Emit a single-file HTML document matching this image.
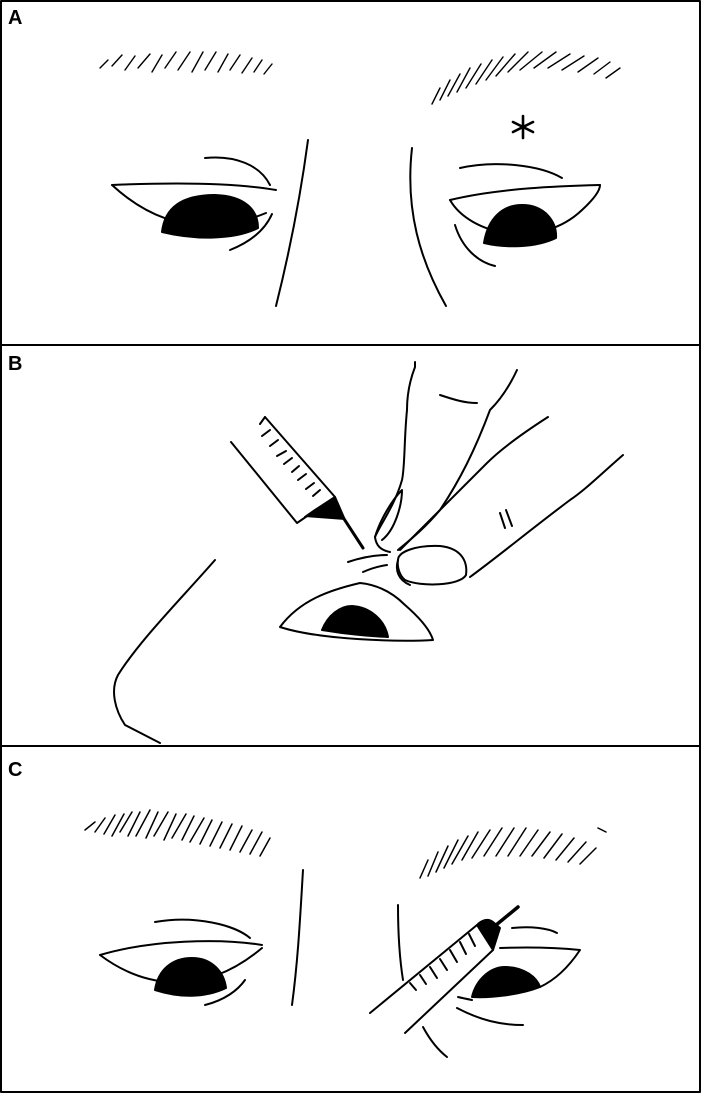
<!DOCTYPE html>
<html><head><meta charset="utf-8"><style>
html,body{margin:0;padding:0;background:#fff}
svg{display:block}
text{font-family:"Liberation Sans",Arial,sans-serif;font-weight:bold;font-size:20px}
</style></head><body>
<svg width="701" height="1094" viewBox="0 0 701 1094" xmlns="http://www.w3.org/2000/svg">
<g fill="none" stroke="#000" stroke-width="2" stroke-linecap="round" stroke-linejoin="round">
<rect x="1" y="1" width="699" height="1091" stroke-width="2"/>
<line x1="1" y1="345" x2="700" y2="345" stroke-width="2"/>
<line x1="1" y1="746" x2="700" y2="746" stroke-width="2"/>

<!-- Panel A -->
<g stroke-width="1.4">
<path d="M100 68 L108 60 M112 66 L122 55 M125 70 L135 56 M138 68 L150 54 M152 72 L162 55 M165 68 L176 52 M178 70 L190 52 M192 72 L203 52 M205 70 L216 52 M218 72 L228 54 M230 70 L240 55 M242 73 L252 58 M254 72 L262 60 M264 74 L272 64"/>
<path d="M432 104 L440 88 M440 100 L450 80 M448 96 L460 74 M457 92 L470 68 M466 88 L481 64 M476 84 L492 60 M486 80 L503 57 M496 76 L515 54 M508 72 L528 52 M520 70 L542 52 M534 68 L556 52 M548 68 L570 54 M562 70 L584 56 M578 72 L598 58 M594 74 L610 62 M606 78 L620 68"/>
</g>
<path d="M308 140 C300 200 290 250 276 306"/>
<path d="M412 148 C405 210 420 260 446 306"/>
<path d="M112 185 C160 183 230 182 276 190"/>
<path d="M112 185 C150 220 200 240 266 213"/>
<path d="M205 158 C235 155 260 165 270 185"/>
<path d="M230 250 C250 242 265 230 272 214"/>
<path d="M162 232 C165 205 185 195 215 195 C245 196 258 210 258 228 C235 240 195 240 162 232Z" fill="#000"/>
<path d="M450 200 C500 188 560 186 600 185"/>
<path d="M450 200 C470 235 540 250 582 210 C595 198 600 190 600 185"/>
<path d="M460 168 C495 160 540 165 562 178"/>
<path d="M455 225 C462 248 478 262 495 266"/>
<path d="M484 243 C488 218 503 205 522 205 C545 205 557 222 556 238 C535 248 505 248 484 243Z" fill="#000"/>
<path d="M523 116 V138 M513 122 L533 132 M513 132 L533 122" stroke-width="2.6"/>

<!-- Panel B -->
<path d="M231 442 L297 523 L335 497 L265 417"/>
<path d="M265 417 L260 424 M270 430 L262 436 M278 440 L270 446 M286 451 L277 456 M292 458 L284 464 M299 466 L292 472 M306 474 L298 480 M314 483 L306 489 M320 490 L313 496"/>
<path d="M305 517 L315 510 L335 497 L345 520" fill="#000"/>
<path d="M335 505 L363 548" stroke-width="3"/>
<path d="M415 362 L415 367 M415 367 C408 385 407 400 407 410 C404 440 405 467 402 480 C395 505 380 525 375 537 C376 545 380 550 390 552"/>
<path d="M375 537 C380 520 392 500 402 490 C402 505 395 530 382 540"/>
<path d="M517 370 C510 385 500 400 490 410 C475 450 460 480 440 510 C425 528 410 540 398 550"/>
<path d="M440 395 C455 400 465 403 477 403"/>
<path d="M548 417 C520 435 500 450 487 463 C470 480 440 510 400 550"/>
<path d="M623 455 C600 475 585 490 570 500 C530 530 500 555 470 577"/>
<path d="M398 560 C398 552 415 545 440 546 C460 548 468 560 466 575 C460 586 420 587 405 580 C399 575 397 566 398 560Z"/>
<path d="M398 560 C395 570 398 580 410 585"/>
<path d="M500 513 L505 528 M506 510 L512 526"/>
<path d="M348 562 C360 558 375 555 387 555 M363 572 C372 568 380 566 387 565"/>
<path d="M215 560 C180 600 140 640 118 675 C110 690 115 710 125 725 L160 743"/>
<path d="M280 627 C300 600 330 590 360 583 C380 585 395 595 405 605 C420 618 430 630 433 640 C400 642 320 640 280 627Z"/>
<path d="M322 630 C328 615 340 606 352 606 C370 607 385 620 388 637 C365 636 340 633 322 630Z" fill="#000"/>

<!-- Panel C -->
<g stroke-width="1.5">
<path d="M85 830 L95 822 M95 832 L105 818 M104 834 L115 815 M112 836 L124 814 M120 832 L132 812 M128 836 L140 812 M136 836 L150 810 M146 838 L158 812 M154 836 L168 812 M164 840 L176 814 M172 838 L186 814 M182 840 L194 816 M190 842 L204 818 M200 844 L212 820 M210 846 L222 822 M220 848 L232 824 M230 850 L242 826 M240 852 L252 830 M250 854 L262 832 M260 856 L270 838"/>
<path d="M420 878 L428 860 M428 876 L438 852 M436 872 L448 846 M444 868 L458 840 M452 864 L468 836 M462 860 L478 832 M472 858 L490 830 M484 856 L502 828 M496 856 L514 828 M508 856 L526 828 M520 856 L538 830 M532 856 L550 832 M544 858 L562 834 M556 860 L574 838 M568 862 L586 842 M580 864 L596 848 M598 828 L606 832"/>
</g>
<path d="M303 870 C300 920 298 960 292 1005"/>
<path d="M100 955 C150 940 220 938 262 945"/>
<path d="M100 955 C140 985 200 1000 262 948"/>
<path d="M155 922 C195 915 235 925 250 938"/>
<path d="M205 1005 C225 1000 238 990 245 980"/>
<path d="M155 990 C158 970 172 958 192 958 C212 958 224 972 226 988 C205 998 180 998 155 990Z" fill="#000"/>
<!-- right eye C -->
<path d="M398 905 C398 930 399 955 403 980"/>
<path d="M423 1027 C430 1040 438 1050 447 1057"/>
<path d="M500 948 C530 947 560 948 580 950 C568 968 555 980 540 987"/>
<path d="M512 928 C530 926 548 928 557 933"/>
<path d="M472 997 C476 980 490 967 505 967 C525 967 537 978 540 987 C520 995 490 998 472 997Z" fill="#000"/>
<path d="M458 997 C462 998 467 999 472 1000"/>
<path d="M457 1008 C480 1020 500 1025 523 1025"/>
<path d="M370 1013 L477 925 L493 950 L405 1033"/>
<path d="M477 925 C482 920 488 918 493 922 L500 928 L493 950" fill="#000"/>
<path d="M490 930 L518 907" stroke-width="3.5"/>
<path d="M410 983 L416 990 M420 975 L426 984 M430 967 L437 978 M440 959 L447 970 M450 950 L457 962 M460 942 L466 954 M469 934 L475 946"/>
</g>
<text x="8" y="24">A</text>
<text x="8" y="370">B</text>
<text x="8" y="776">C</text>
</svg>
</body></html>
